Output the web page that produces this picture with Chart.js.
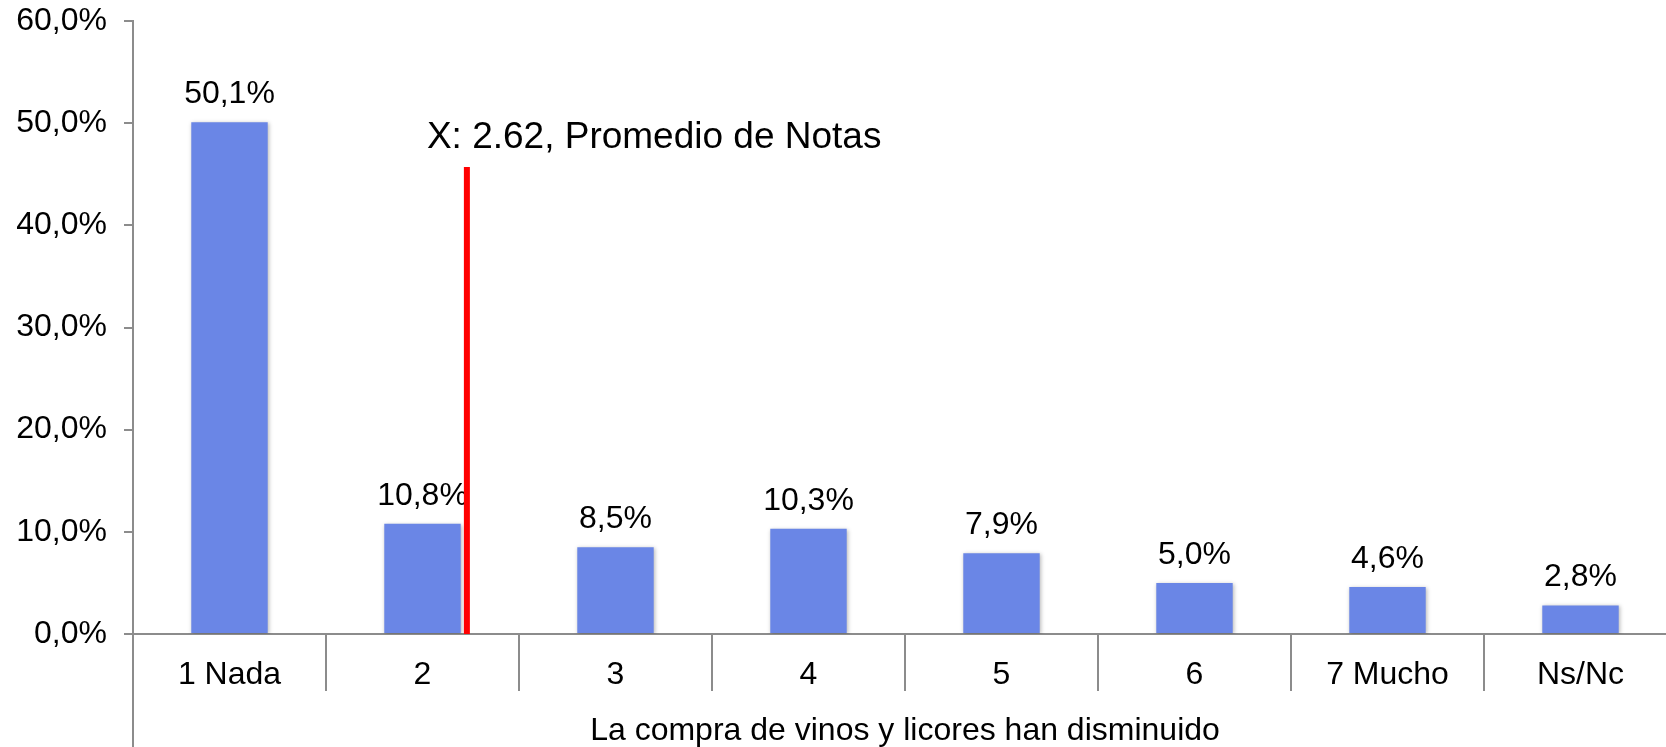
<!DOCTYPE html>
<html>
<head>
<meta charset="utf-8">
<script src="https://cdn.jsdelivr.net/npm/chart.js@4/dist/chart.umd.min.js"></script>
<style>
  html, body { margin: 0; padding: 0; background: #fff; overflow: hidden; }
  #wrap { position: absolute; left: 0; top: 0; width: 1680px; height: 747px; }
</style>
</head>
<body>
<div id="wrap"><canvas id="chart" width="1680" height="747"></canvas></div>
<script>
// Data
const categories = ["1 Nada", "2", "3", "4", "5", "6", "7 Mucho", "Ns/Nc"];
const shares = [50.1, 10.8, 8.5, 10.3, 7.9, 5.0, 4.6, 2.8];
const yTicks = [0, 10, 20, 30, 40, 50, 60];
const axisTitle = "La compra de vinos y licores han disminuido";

// Mean marker (position on a hidden 0..8 axis spanning the plot width)
const meanLabel = "X: 2.62, Promedio de Notas";
const meanLineX = [1.73, 1.73];
const meanLineY = [0, 45.7];

const FONT = "'Liberation Sans', Arial, sans-serif";
const AXIS_GRAY = "#8c8c8c";

const fmtPct = v => v.toFixed(1).replace(".", ",") + "%";

// Draws labels above bars, soft shadow on bars, the axis extension and the mean caption
const decorations = {
  id: "decorations",
  beforeDatasetDraw(chart, args) {
    if (args.index !== 0) return;
    const ctx = chart.ctx;
    ctx.save();
    ctx.shadowColor = "rgba(0,0,0,0.28)";
    ctx.shadowBlur = 4;
    ctx.shadowOffsetX = 1;
    ctx.shadowOffsetY = 1;
  },
  afterDatasetDraw(chart, args) {
    if (args.index !== 0) return;
    const ctx = chart.ctx;
    ctx.restore();
    ctx.save();
    ctx.font = "32px " + FONT;
    ctx.fillStyle = "#000";
    ctx.textAlign = "center";
    ctx.textBaseline = "alphabetic";
    args.meta.data.forEach((bar, i) => {
      ctx.fillText(fmtPct(shares[i]), bar.x, bar.y - 19);
    });
    ctx.restore();
  },
  afterDatasetsDraw(chart) {
    const ctx = chart.ctx;
    const area = chart.chartArea;
    ctx.save();
    // y axis continues down past the category labels
    ctx.strokeStyle = AXIS_GRAY;
    ctx.lineWidth = 2;
    ctx.beginPath();
    ctx.moveTo(area.left, area.bottom);
    ctx.lineTo(area.left, chart.height);
    ctx.stroke();

    const top = chart.getDatasetMeta(1).data[1];
    ctx.font = "37px " + FONT;
    ctx.fillStyle = "#000";
    ctx.textAlign = "left";
    ctx.textBaseline = "alphabetic";
    ctx.fillText(meanLabel, top.x - 40, top.y - 19);
    ctx.restore();
  }
};

new Chart(document.getElementById("chart"), {
  type: "bar",
  data: {
    labels: categories,
    datasets: [
      {
        data: shares,
        backgroundColor: "#6a86e6",
        borderWidth: 0,
        grouped: false,
        barPercentage: 0.396,
        categoryPercentage: 1.0,
        order: 1
      },
      {
        type: "line",
        data: meanLineX.map((x, i) => ({ x: x, y: meanLineY[i] })),
        xAxisID: "xl",
        borderColor: "#ff0000",
        borderWidth: 6,
        borderCapStyle: "butt",
        pointRadius: 0,
        fill: false,
        order: 0
      }
    ]
  },
  options: {
    responsive: false,
    animation: false,
    layout: { padding: { top: 21, right: 3, left: 0, bottom: 0 } },
    plugins: {
      legend: { display: false },
      tooltip: { enabled: false }
    },
    scales: {
      x: {
        type: "category",
        offset: true,
        afterFit(scale) { scale.height = 113; },
        grid: {
          offset: true,
          drawOnChartArea: false,
          drawTicks: true,
          tickLength: 57,
          color: AXIS_GRAY,
          lineWidth: 2
        },
        border: { color: AXIS_GRAY, width: 2 },
        ticks: {
          color: "#000",
          font: { family: FONT, size: 32 },
          padding: -35,
          maxRotation: 0,
          autoSkip: false
        },
        title: {
          display: true,
          text: axisTitle,
          color: "#000",
          font: { family: FONT, size: 32, lineHeight: 1.0 },
          padding: { top: 0, bottom: 0 }
        }
      },
      xl: {
        type: "linear",
        display: false,
        offset: false,
        min: 0,
        max: 8
      },
      y: {
        min: yTicks[0],
        max: yTicks[yTicks.length - 1],
        afterFit(scale) {
          scale.width = 133;
          scale.paddingTop = 0;
          scale.paddingBottom = 0;
        },
        afterBuildTicks(scale) { scale.ticks = yTicks.map(v => ({ value: v })); },
        grid: {
          drawOnChartArea: false,
          drawTicks: true,
          tickLength: 9,
          color: AXIS_GRAY,
          lineWidth: 2
        },
        border: { color: AXIS_GRAY, width: 2 },
        ticks: {
          color: "#000",
          font: { family: FONT, size: 32 },
          padding: 17,
          callback: v => fmtPct(v)
        }
      }
    }
  },
  plugins: [decorations]
});
</script>
</body>
</html>
